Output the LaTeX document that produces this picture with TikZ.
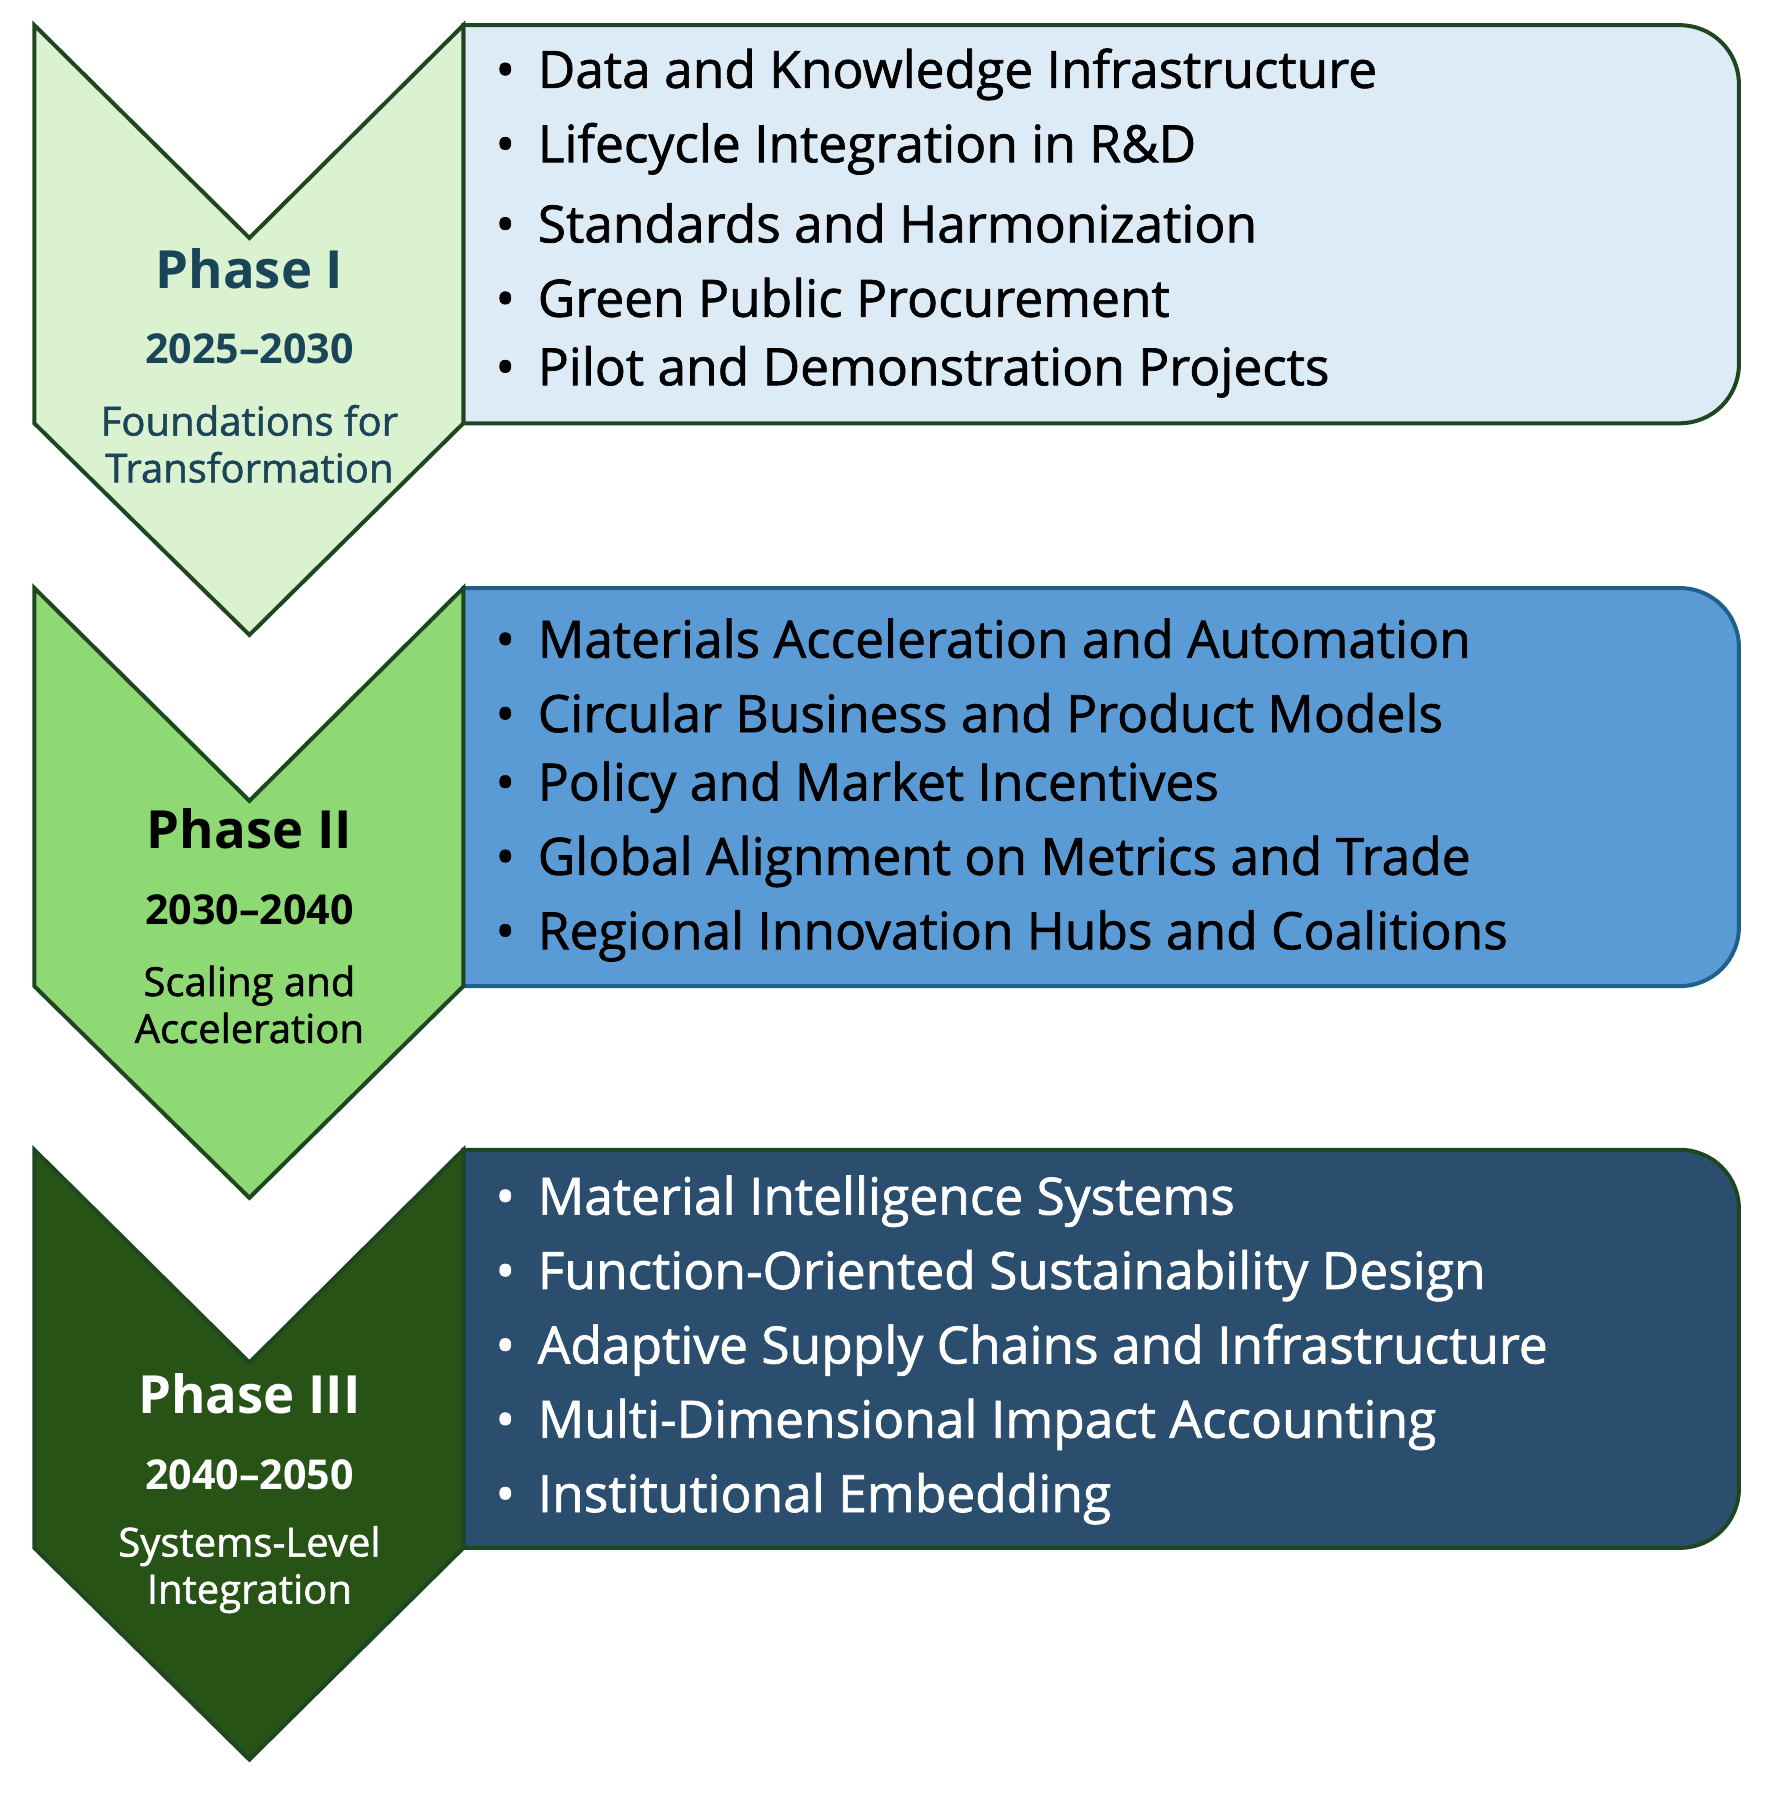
\documentclass[tikz,border=0pt]{standalone}
\usepackage{fontspec}
\setmainfont{Open Sans}
\newfontfamily\semib[FakeBold=1.3]{Open Sans}
\definecolor{cA}{HTML}{DAF2D0}\definecolor{cB}{HTML}{8ED973}\definecolor{cC}{HTML}{275317}
\definecolor{bA}{HTML}{DDEBF7}\definecolor{bB}{HTML}{5B9BD5}\definecolor{bC}{HTML}{2B4E6E}
\definecolor{edge}{HTML}{1E4620}\definecolor{edgeB}{HTML}{1F5F8B}\definecolor{tealtxt}{HTML}{1A4458}
\tikzset{chev/.style={draw=edge,line width=3.5pt,line join=miter},
 boxs/.style={line width=3.5pt},
 item/.style={anchor=west,font=\semib\fontsize{45}{50}\selectfont,inner sep=0pt},
 ph/.style={font=\fontsize{46}{50}\selectfont\bfseries,inner sep=0pt},
 yr/.style={font=\fontsize{36}{40}\selectfont\bfseries,inner sep=0pt},
 sub/.style={font=\semib\fontsize{35}{41}\selectfont,align=center,inner sep=0pt}}
\begin{document}
\begin{tikzpicture}[x=1pt,y=-1pt]
\useasboundingbox (0,0) rectangle (1560,1576);
\foreach \o/\cf/\bf/\be in {0/cA/bA/edge,492/cB/bB/edgeB,983/cC/bC/edge}{
 \begin{scope}[yshift=-\o pt]
 \draw[boxs,fill=\bf,draw=\be] (405,22) -- (1468,22) .. controls (1497,22) and (1520,45) .. (1520,74) -- (1520,318) .. controls (1520,347) and (1497,370) .. (1468,370) -- (405,370) -- cycle;
 \draw[chev,fill=\cf] (30,22) -- (218,208) -- (405,22) -- (405,370) -- (218,555) -- (30,370) -- cycle;
 \end{scope}}
% Phase I
\node[ph,text=tealtxt] (p1) at (218,235) {Phase I};
\node[yr,text=tealtxt] (y1) at (218,305) {2025–2030};
\node[sub,text=tealtxt] (s1) at (218,388) {Foundations for\\Transformation};
\foreach \t [count=\i] in {Data and Knowledge Infrastructure,Lifecycle Integration in R\&D,Standards and Harmonization,Green Public Procurement,Pilot and Demonstration Projects}
 \node[item] (a\i) at (433,65*\i) {•\hspace{20pt}\t};
% Phase II
\node[ph,text=black] (p2) at (218,724) {Phase II};
\node[yr,text=black] (y2) at (218,795) {2030–2040};
\node[sub,text=black] (s2) at (218,878) {Scaling and\\Acceleration};
\foreach \t [count=\i] in {Materials Acceleration and Automation,Circular Business and Product Models,Policy and Market Incentives,Global Alignment on Metrics and Trade,Regional Innovation Hubs and Coalitions}
 \node[item] (b\i) at (433,493+65*\i) {•\hspace{20pt}\t};
% Phase III
\node[ph,text=white] (p3) at (218,1218) {Phase III};
\node[yr,text=white] (y3) at (218,1289) {2040–2050};
\node[sub,text=white] (s3) at (218,1372) {Systems-Level\\Integration};
\foreach \t [count=\i] in {Material Intelligence Systems,Function-Oriented Sustainability Design,Adaptive Supply Chains and Infrastructure,Multi-Dimensional Impact Accounting,Institutional Embedding}
 \node[item,text=white] (c\i) at (433,985+65*\i) {•\hspace{20pt}\t};
\end{tikzpicture}
\end{document}
